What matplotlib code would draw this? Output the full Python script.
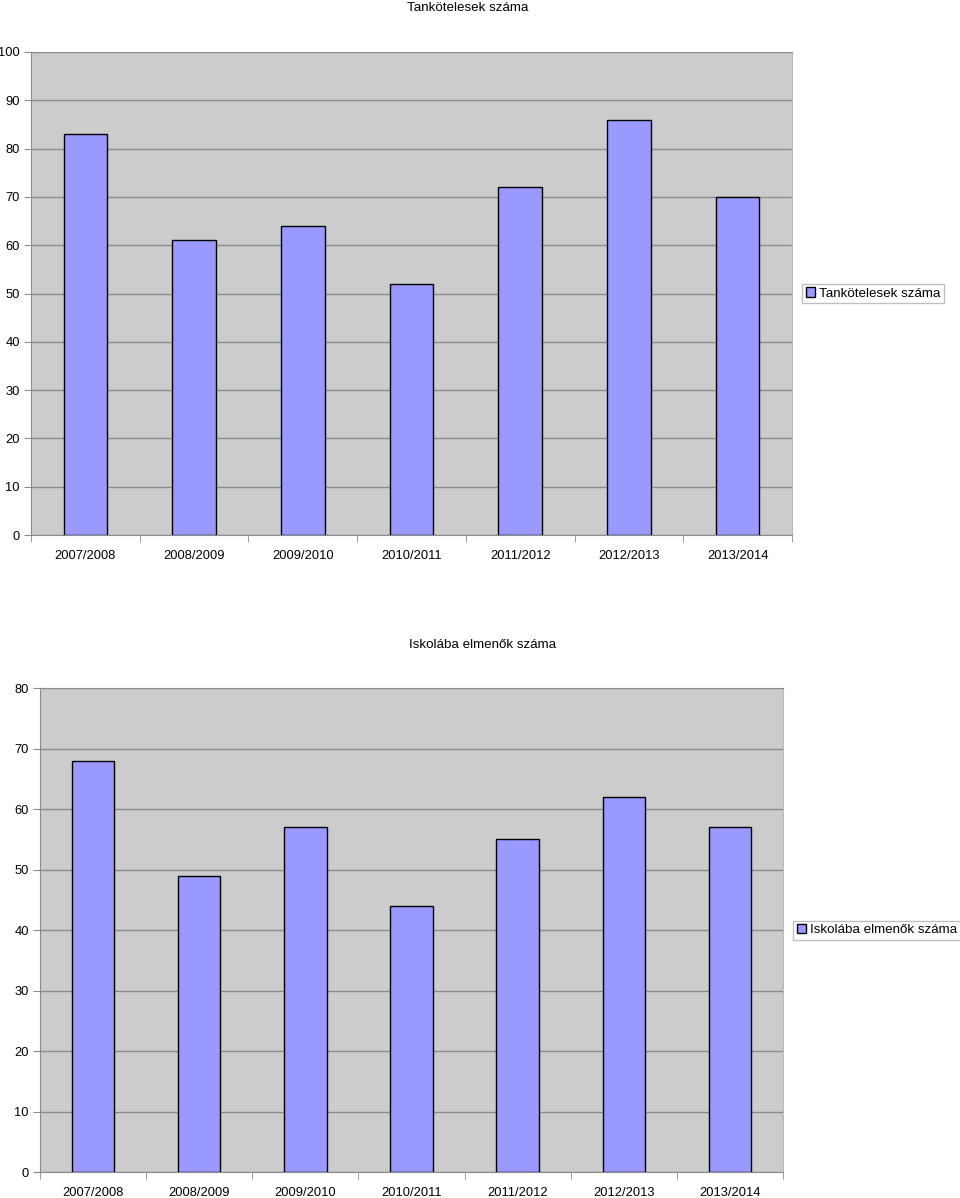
import matplotlib.pyplot as plt
import numpy as np

plt.rcParams['font.family'] = ['Liberation Sans', 'DejaVu Sans']

years = ["2007/2008", "2008/2009", "2009/2010", "2010/2011",
         "2011/2012", "2012/2013", "2013/2014"]
tankotelesek = [83, 61, 64, 52, 72, 86, 70]
iskolaba = [68, 49, 57, 44, 55, 62, 57]

bar_color = "#9999ff"
bg_color = "#cccccc"
grid_color = "#8c8c8c"


def draw(ax, values, ymax, label):
    x = np.arange(len(values))
    ax.set_facecolor(bg_color)
    ax.bar(x, values, width=0.4, color=bar_color, edgecolor="black",
           linewidth=1.0, label=label, zorder=3)
    ax.set_xlim(-0.5, len(values) - 0.5)
    ax.set_ylim(0, ymax)
    ax.set_yticks(np.arange(0, ymax + 1, 10))
    ax.yaxis.grid(True, color=grid_color, linewidth=1.0, zorder=1)
    ax.set_xticks(x)
    ax.set_xticklabels(years, fontsize=9.3)
    ax.tick_params(axis="x", length=0, pad=11)
    ax.set_xticks(np.arange(-0.5, len(values)), minor=True)
    ax.tick_params(axis="x", which="minor", length=5, color=grid_color,
                   direction="out")
    ax.tick_params(axis="y", length=5, color=grid_color, labelsize=9.3,
                   pad=3)
    for s in ["left", "bottom", "top"]:
        ax.spines[s].set_color(grid_color)
    ax.spines["right"].set_color("#b8b8b8")


fig = plt.figure(figsize=(9.6, 11.98), dpi=100)

ax1 = fig.add_axes([0.0323, 0.5534, 0.7927, 0.4032])
draw(ax1, tankotelesek, 100, "Tankötelesek száma")
fig.text(0.487, 0.9935, "Tankötelesek száma", ha="center", va="center",
         fontsize=9.6)
ax1.legend(loc="center left", bbox_to_anchor=(1.005, 0.5), fontsize=9.6,
           frameon=True, fancybox=False, edgecolor="#b0b0b0",
           handlelength=0.7, handleheight=0.7, handletextpad=0.3,
           borderpad=0.25, borderaxespad=0.5)

ax2 = fig.add_axes([0.0417, 0.0217, 0.774, 0.404])
draw(ax2, iskolaba, 80, "Iskolába elmenők száma")
fig.text(0.503, 0.4616, "Iskolába elmenők száma", ha="center", va="center",
         fontsize=9.6)
ax2.legend(loc="center left", bbox_to_anchor=(1.005, 0.5), fontsize=9.6,
           frameon=True, fancybox=False, edgecolor="#b0b0b0",
           handlelength=0.7, handleheight=0.7, handletextpad=0.3,
           borderpad=0.25, borderaxespad=0.5)

fig.savefig("out.png", dpi=100)
